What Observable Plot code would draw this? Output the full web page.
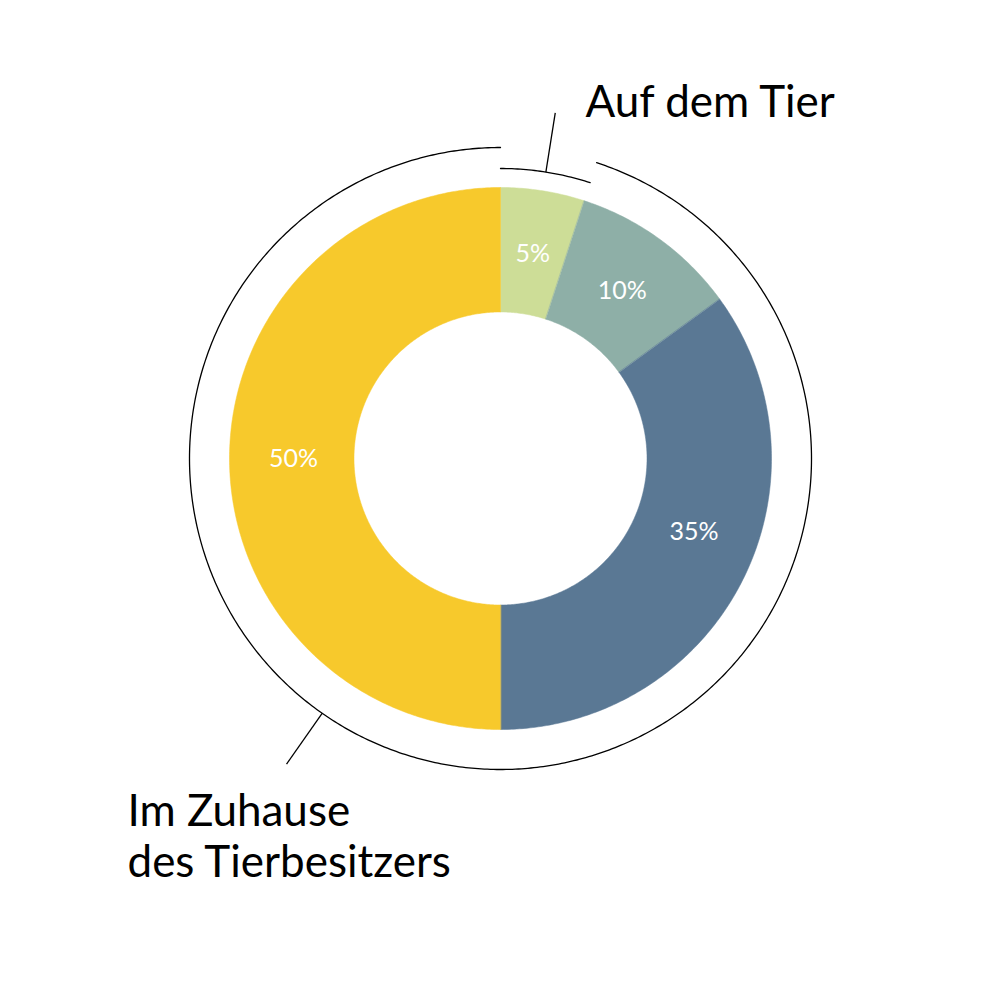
<!DOCTYPE html>
<html>
<head>
<meta charset="utf-8">
<script src="https://cdn.jsdelivr.net/npm/d3@7"></script>
<script src="https://cdn.jsdelivr.net/npm/@observablehq/plot@0.6"></script>
<style>
  html, body { margin: 0; padding: 0; background: #fff; }
  #chart svg { display: block; }
</style>
</head>
<body>
<div id="chart"></div>
<script>
// ---- Data ----
const categories = ["Auf dem Tier A", "Auf dem Tier B", "Im Zuhause A", "Im Zuhause B"];
const shares = [5, 10, 35, 50];
const percentLabels = ["5%", "10%", "35%", "50%"];
const colors = ["#cddd97", "#8eafa7", "#5a7894", "#f7c92c"];
const groupNames = ["Auf dem Tier", "Im Zuhause\ndes Tierbesitzers"];
const groupShares = [5, 95];

// ---- Geometry (pixel-like units, centre at 0,0) ----
const R_OUT = 271, R_IN = 146.5;
const R_SMALL = 290, R_BIG = 311;
const total = d3.sum(shares);
const toRad = (p) => (p / total) * 2 * Math.PI; // clockwise from top
const pt = (r, a) => ({x: r * Math.sin(a), y: r * Math.cos(a)});

function arcPoints(r, a0, a1) {
  const n = Math.max(2, Math.ceil(Math.abs(a1 - a0) / 0.01));
  return d3.range(n + 1).map(i => pt(r, a0 + (a1 - a0) * i / n));
}

// slices
let acc = 0;
const slicePts = [];
const labelPts = [];
const labelShift = {"35%": -0.11};
shares.forEach((s, i) => {
  const a0 = toRad(acc), a1 = toRad(acc + s);
  acc += s;
  const outer = arcPoints(R_OUT, a0, a1);
  const inner = arcPoints(R_IN, a1, a0);
  [...outer, ...inner].forEach(p => slicePts.push({...p, key: categories[i]}));
  const am = (a0 + a1) / 2 + (labelShift[percentLabels[i]] || 0);
  labelPts.push({...pt(207, am), label: percentLabels[i]});
});

// group arcs
const groupArc = [];
const g0 = toRad(groupShares[0]);
arcPoints(R_SMALL, 0, g0).forEach(p => groupArc.push({...p, key: "small"}));
arcPoints(R_BIG, g0, 2 * Math.PI).forEach(p => groupArc.push({...p, key: "big"}));

// leader lines
const aTop = g0 / 2;
const aBottom = 215 / 180 * Math.PI;
const leaders = [
  {a: pt(R_SMALL, aTop), b: pt(350, aTop)},
  {a: pt(R_BIG, aBottom), b: pt(373, aBottom)}
];

const FONT = "Lato, 'Open Sans', sans-serif";

const plot = Plot.plot({
  width: 1000,
  height: 1000,
  margin: 0,
  x: {domain: [-500, 500], range: [0, 1000], axis: null},
  y: {domain: [-542, 458], range: [1000, 0], axis: null},
  color: {domain: categories, range: colors},
  style: {fontFamily: FONT, background: "#fff"},
  marks: [
    Plot.line(slicePts, {x: "x", y: "y", z: "key", fill: "key", stroke: "key", strokeWidth: 0.5, curve: "linear-closed"}),
    Plot.line(groupArc, {x: "x", y: "y", z: "key", stroke: "#000", strokeWidth: 1.3}),
    Plot.link(leaders, {x1: d => d.a.x, y1: d => d.a.y, x2: d => d.b.x, y2: d => d.b.y, stroke: "#000", strokeWidth: 1.3}),
    Plot.text(labelPts, {x: "x", y: "y", text: "label", fill: "#fff", fontSize: 25, fontFamily: FONT}),
    Plot.text([groupNames[0]], {x: 85, y: 342, text: d => d, textAnchor: "start", lineAnchor: "bottom", fontSize: 44, fill: "#000", fontFamily: FONT}),
    Plot.text([groupNames[1]], {x: -373, y: -418, text: d => d, textAnchor: "start", lineAnchor: "bottom", lineHeight: 1.14, fontSize: 44, fill: "#000", fontFamily: FONT})
  ]
});
document.getElementById("chart").appendChild(plot);
</script>
</body>
</html>
